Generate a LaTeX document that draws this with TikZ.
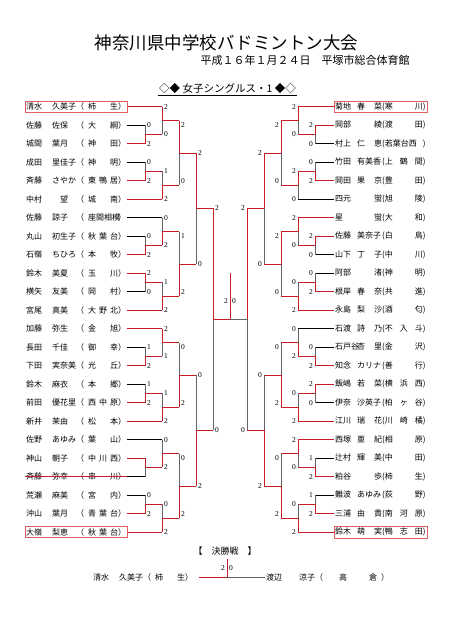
\documentclass[tikz,border=0pt]{standalone}
\usepackage{fontspec}
\setmainfont{Liberation Serif}
\newfontfamily\jp{Noto Sans CJK JP}
\usetikzlibrary{calc}
\definecolor{winred}{RGB}{200,28,36}
\definecolor{boxred}{RGB}{222,96,96}
\definecolor{lossgray}{RGB}{100,100,100}

\tikzset{
  wl/.style={draw=winred, line width=0.8pt},
  ll/.style={draw=lossgray, line width=0.8pt},
  nl/.style={draw=black, line width=0.8pt},
  nm/.style={anchor=west, inner xsep=1pt, inner ysep=1.5pt, font=\jp\fontsize{8}{9}\selectfont},
  sc/.style={inner sep=0pt, anchor=\scanc, font=\fontsize{7.5}{8}\selectfont},
}
% left entry: surname, given name, school
\newcommand\nm[3]{\makebox[26pt][l]{#1}\makebox[24pt][l]{#2}（\hspace{4pt}\makebox[30pt][s]{#3}）}
% right entry
\newcommand\rnm[3]{\makebox[22pt][l]{#1}\makebox[25pt][s]{#2}(\makebox[38pt][s]{#3})\hspace{5pt}}
% one match: [score inset] id, top end, bottom end, winner t/b, score top, score bottom
\newcommand\bmatch[7][0]{%
  \pgfmathsetmacro\bdx{17*\sd}%
  \pgfmathsetmacro\bsx{2*\sd}%
  \coordinate (#2-m) at ($(#3)!0.5!(#4)$);
  \coordinate (#2-o) at ($(#2-m)+(\bdx,0)$);
  \if t#5\def\ctop{wl}\def\cbot{ll}\else\def\ctop{ll}\def\cbot{wl}\fi
  \draw[\ctop] (#3) -- (#2-m);
  \draw[\cbot] (#2-m) -- (#4);
  \draw[wl] (#2-m) -- (#2-o);
  \node[sc] at ($(#3)+(\bsx,#1)$) {#6};
  \node[sc] at ($(#4)+(\bsx,-#1)$) {#7};
}
% block of six rows: side, block, then the five matches
\newcommand\bblock[7]{%
  \pgfmathtruncatemacro\rowA{6*#2}%
  \pgfmathtruncatemacro\rowB{6*#2+1}%
  \pgfmathtruncatemacro\rowC{6*#2+2}%
  \pgfmathtruncatemacro\rowD{6*#2+3}%
  \pgfmathtruncatemacro\rowE{6*#2+4}%
  \pgfmathtruncatemacro\rowF{6*#2+5}%
  \bmatch{#1p#2}{#1\rowB-e}{#1\rowC-e}#3
  \bmatch{#1a#2}{#1\rowA-e}{#1p#2-o}#4
  \bmatch{#1q#2}{#1\rowD-e}{#1\rowE-e}#5
  \bmatch{#1b#2}{#1q#2-o}{#1\rowF-e}#6
  \bmatch[4.6]{#1c#2}{#1a#2-o}{#1b#2-o}#7
}

\begin{document}
\begin{tikzpicture}[x=1pt,y=-1pt]
  \useasboundingbox (0,0) rectangle (453,640);
  \node[font=\jp\fontsize{17.5}{18}\selectfont] (title) at (226.5,43) {神奈川県中学校バドミントン大会};
  \node[font=\jp\fontsize{11}{12}\selectfont] (subtitle) at (305,60) {平成１６年１月２４日　平塚市総合体育館};
  \node[font=\jp\fontsize{10.5}{11}\selectfont, inner sep=1pt] (head) at (227.5,89) {◇◆ 女子シングルス・1 ◆◇};
  \draw[line width=0.6pt] (head.south west) -- (head.south east);

  % left half
  \def\sd{1}\def\scanc{west}
  \foreach \col/\pname [count=\i from 0] in {
      wl/\nm{清水}{久美子}{柿 生}, nl/\nm{佐藤}{佐保}{大 綱}, wl/\nm{城間}{葉月}{神 田},
      nl/\nm{成田}{里佳子}{神 明}, wl/\nm{斉藤}{さやか}{東 鴨 居}, wl/\nm{中村}{\quad 望}{城 南},
      nl/\nm{佐藤}{諒子}{座間相模}, nl/\nm{丸山}{初生子}{秋 葉 台}, wl/\nm{石嶺}{ちひろ}{本 牧},
      wl/\nm{鈴木}{美夏}{玉 川}, nl/\nm{横矢}{友美}{岡 村}, wl/\nm{宮尾}{真美}{大 野 北},
      wl/\nm{加藤}{弥生}{金 旭}, nl/\nm{長田}{千佳}{御 幸}, wl/\nm{下田}{実奈美}{光 丘},
      nl/\nm{鈴木}{麻衣}{本 郷}, wl/\nm{前田}{優花里}{西 中 原}, wl/\nm{新井}{茉由}{松 本},
      nl/\nm{佐野}{あゆみ}{葉 山}, wl/\nm{神山}{朝子}{中 川 西}, nl/\nm{斉藤}{弥幸}{串 川},
      nl/\nm{荒瀬}{麻美}{宮 内}, wl/\nm{沖山}{葉月}{青 葉 台}, wl/\nm{大嶺}{梨恵}{秋 葉 台}}{
    \pgfmathsetmacro\yy{106.7+18.5*\i}
    \pgfmathtruncatemacro\k{mod(\i,6)}
    \pgfmathsetmacro\xe{(\k==0||\k==5) ? 162 : 145}
    \node[nm] (L\i) at (25,\yy) {\pname};
    \coordinate (L\i-e) at (\xe,\yy);
    \draw[\col] (L\i) -- (L\i-e);
  }
  \draw[wl] (L20.west) -- (L20.east);
  \bblock{L}{0}{{b}{0}{2}}{{t}{2}{0}}{{b}{0}{2}}{{b}{1}{2}}{{t}{2}{0}}
  \bblock{L}{1}{{b}{0}{2}}{{b}{0}{2}}{{t}{2}{0}}{{b}{1}{2}}{{b}{1}{2}}
  \bblock{L}{2}{{b}{1}{2}}{{t}{2}{1}}{{b}{1}{2}}{{b}{1}{2}}{{b}{0}{2}}
  \bblock{L}{3}{{t}{}{}}{{b}{0}{2}}{{b}{0}{2}}{{b}{0}{2}}{{b}{0}{2}}
  \bmatch{Ld0}{Lc0-o}{Lc1-o}{t}{2}{0}
  \bmatch{Ld1}{Lc2-o}{Lc3-o}{b}{0}{2}
  \bmatch{Le}{Ld0-o}{Ld1-o}{t}{2}{0}

  % right half
  \def\sd{-1}\def\scanc{east}
  \foreach \col/\pname [count=\i from 0] in {
      wl/\rnm{菊地}{春 菜}{寒 川}, wl/\rnm{岡部}{\hfill 綾}{渡 田}, nl/\rnm{村上}{仁 恵}{若葉台西},
      nl/\rnm{竹田}{有美香}{上 鶴 間}, wl/\rnm{岡田}{果 京}{豊 田}, nl/\rnm{四元}{\hfill 蛍}{旭 陵},
      wl/\rnm{星}{\hfill 蛍}{大 和}, wl/\rnm{佐藤}{美奈子}{白 鳥}, nl/\rnm{山下}{丁 子}{中 川},
      nl/\rnm{阿部}{\hfill 渚}{神 明}, wl/\rnm{根岸}{春 奈}{共 進}, wl/\rnm{永島}{梨 沙}{酒 匂},
      nl/\rnm{石渡}{詩 乃}{不 入 斗}, nl/\rnm{石戸谷}{杏 里}{金 沢}, wl/\rnm{知念}{カリナ}{善 行},
      wl/\rnm{飯嶋}{若 菜}{横 浜 西}, nl/\rnm{伊奈}{沙英子}{柏 ヶ 谷}, wl/\rnm{江川}{瑞 花}{川 崎 橘},
      wl/\rnm{西塚}{亜 紀}{相 原}, nl/\rnm{辻村}{輝 美}{中 田}, wl/\rnm{粕谷}{\hfill 歩}{柿 生},
      nl/\rnm{難波}{あゆみ}{荻 野}, wl/\rnm{三浦}{由 貴}{南 河 原}, wl/\rnm{鈴木}{萌 実}{鴨 志 田}}{
    \pgfmathsetmacro\yy{106.7+18.5*\i}
    \pgfmathtruncatemacro\k{mod(\i,6)}
    \pgfmathsetmacro\xe{(\k==0||\k==5) ? 298 : 315}
    \node[nm] (R\i) at (334,\yy) {\pname};
    \coordinate (R\i-e) at (\xe,\yy);
    \draw[\col] (R\i) -- (R\i-e);
  }
  \bblock{R}{0}{{t}{2}{0}}{{t}{2}{0}}{{b}{0}{2}}{{t}{2}{0}}{{t}{2}{0}}
  \bblock{R}{1}{{t}{2}{0}}{{t}{2}{0}}{{b}{0}{2}}{{b}{0}{2}}{{t}{2}{0}}
  \bblock{R}{2}{{b}{0}{2}}{{b}{0}{2}}{{t}{2}{0}}{{b}{0}{2}}{{b}{0}{2}}
  \bblock{R}{3}{{b}{1}{2}}{{t}{2}{0}}{{b}{1}{2}}{{b}{0}{2}}{{b}{0}{2}}
  \bmatch{Rd0}{Rc0-o}{Rc1-o}{t}{2}{0}
  \bmatch{Rd1}{Rc2-o}{Rc3-o}{b}{0}{2}
  \bmatch{Re}{Rd0-o}{Rd1-o}{t}{2}{0}
  \draw[ll] (Re-m) -- (Re-o);

  % centre
  \coordinate (ctop) at (230,273);
  \draw[wl] (ctop) -- (Le-o);
  \node[sc, anchor=east] at ($(ctop)+(-2,28)$) {2};
  \node[sc, anchor=west] at ($(ctop)+(2,28)$) {0};

  \foreach \bx in {L0,L23,R0,R23}
    \draw[boxred, line width=0.6pt] (\bx.south west) rectangle (\bx.north east);

  % final
  \node[font=\jp\fontsize{9}{10}\selectfont] (fhead) at (225,551) {【　決勝戦　】};
  \node[nm] (F1) at (92,577) {\nm{清水}{久美子}{柿 生}};
  \node[nm] (F2) at (265,577) {\makebox[33pt][l]{渡辺}\makebox[16pt][l]{涼子}（\hspace{16pt}\makebox[38pt][s]{高 倉}\hspace{4pt}）};
  \coordinate (fm) at (227,577);
  \coordinate (ft) at (227,559);
  \draw[wl] ([xshift=5pt]F1.east) -- (fm);
  \draw[ll] (fm) -- (F2);
  \draw[wl] (ft) -- (fm);
  \node[sc, anchor=east] at ($(ft)+(-2,9)$) {2};
  \node[sc, anchor=west] at ($(ft)+(2,9)$) {0};
\end{tikzpicture}
\end{document}
